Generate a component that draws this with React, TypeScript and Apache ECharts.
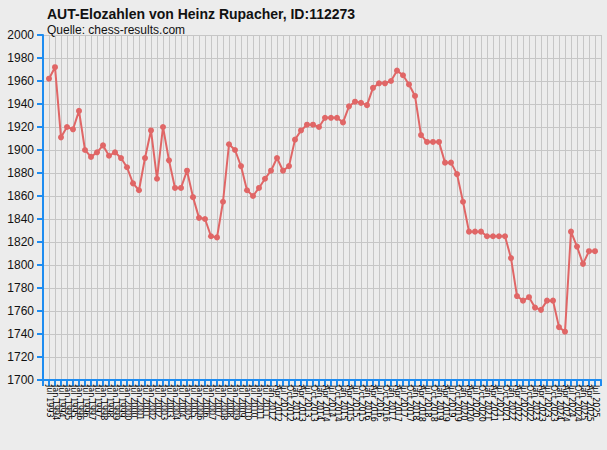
import { useEffect, useRef } from 'react'
import * as echarts from 'echarts'

// rating lists: half-yearly up to Jan 2012, then quarterly
const halfYearLabels = [
  'Jul 1993', 'Jan 1994', 'Jul 1994', 'Jan 1995', 'Jul 1995', 'Jan 1996', 'Jul 1996', 'Jan 1997',
  'Jul 1997', 'Jan 1998', 'Jul 1998', 'Jan 1999', 'Jul 1999', 'Jan 2000', 'Jul 2000', 'Jan 2001',
  'Jul 2001', 'Jan 2002', 'Jul 2002', 'Jan 2003', 'Jul 2003', 'Jan 2004', 'Jul 2004', 'Jan 2005',
  'Jul 2005', 'Jan 2006', 'Jul 2006', 'Jan 2007', 'Jul 2007', 'Jan 2008', 'Jul 2008', 'Jan 2009',
  'Jul 2009', 'Jan 2010', 'Jul 2010', 'Jan 2011', 'Jul 2011', 'Jan 2012'
]

const quarterLabels = [
  'Apr 2012', 'Jul 2012', 'Oct 2012',
  'Jan 2013', 'Apr 2013', 'Jul 2013', 'Oct 2013',
  'Jan 2014', 'Apr 2014', 'Jul 2014', 'Oct 2014',
  'Jan 2015', 'Apr 2015', 'Jul 2015', 'Oct 2015',
  'Jan 2016', 'Apr 2016', 'Jul 2016', 'Oct 2016',
  'Jan 2017', 'Apr 2017', 'Jul 2017', 'Oct 2017',
  'Jan 2018', 'Apr 2018', 'Jul 2018', 'Oct 2018',
  'Jan 2019', 'Apr 2019', 'Jul 2019', 'Oct 2019',
  'Jan 2020', 'Apr 2020', 'Jul 2020', 'Oct 2020',
  'Jan 2021', 'Apr 2021', 'Jul 2021', 'Oct 2021',
  'Jan 2022', 'Apr 2022', 'Jul 2022', 'Oct 2022',
  'Jan 2023', 'Apr 2023', 'Jul 2023', 'Oct 2023',
  'Jan 2024', 'Apr 2024', 'Jul 2024', 'Oct 2024',
  'Jan 2025', 'Apr 2025', 'Jul 2025'
]

const dateLabels = [...halfYearLabels, ...quarterLabels]

const elo = [
  1962, 1972, 1911, 1920, 1918, 1934, 1900, 1894, 1898, 1904,
  1895, 1898, 1893, 1885, 1871, 1865, 1893, 1917, 1875, 1920,
  1891, 1867, 1867, 1882, 1859, 1841, 1840, 1825, 1824, 1855,
  1905, 1900, 1886, 1865, 1860, 1867, 1875, 1882, 1893, 1882,
  1886, 1909, 1917, 1922, 1922, 1920, 1928, 1928, 1928, 1924,
  1938, 1942, 1941, 1939, 1954, 1958, 1958, 1960, 1969, 1965,
  1957, 1947, 1913, 1907, 1907, 1907, 1889, 1889, 1879, 1855,
  1829, 1829, 1829, 1825, 1825, 1825, 1825, 1806, 1773, 1769,
  1772, 1763, 1761, 1769, 1769, 1746, 1742, 1829, 1816, 1801,
  1812, 1812
]

const yMin = 1700
const yMax = 2000
const yStep = 20

const axisBlue = '#1e8cf0'

export default function App() {
  const chartRef = useRef<HTMLDivElement>(null)

  useEffect(() => {
    if (!chartRef.current) return
    const chart = echarts.init(chartRef.current, null, { renderer: 'svg' })

    chart.setOption({
      animation: false,
      backgroundColor: '#ececec',
      title: {
        text: 'AUT-Elozahlen von Heinz Rupacher, ID:112273',
        subtext: 'Quelle: chess-results.com',
        left: 42,
        top: 2,
        itemGap: 3,
        textStyle: { fontFamily: 'Liberation Sans', fontSize: 14, fontWeight: 'bold', color: '#111' },
        subtextStyle: { fontFamily: 'Liberation Sans', fontSize: 12, color: '#111' }
      },
      grid: { left: 43, right: 6, top: 35, bottom: 70 },
      xAxis: {
        type: 'value',
        min: 0,
        max: dateLabels.length + 1,
        interval: 1,
        axisLine: { lineStyle: { color: axisBlue, width: 2 } },
        axisTick: { show: true, length: 6, lineStyle: { color: axisBlue, width: 2 } },
        splitLine: { show: true, lineStyle: { color: '#c6c6c6', width: 1 } },
        axisLabel: {
          rotate: -90,
          fontSize: 8,
          fontFamily: 'DejaVu Sans',
          color: '#000',
          margin: 5,
          showMinLabel: true,
          showMaxLabel: true,
          formatter: (v: number) => dateLabels[v - 1] ?? ''
        }
      },
      yAxis: {
        type: 'value',
        min: yMin,
        max: yMax,
        interval: yStep,
        axisLine: { show: true, lineStyle: { color: axisBlue, width: 2 } },
        axisTick: { show: true, length: 6, lineStyle: { color: axisBlue, width: 2 } },
        splitLine: { show: true, lineStyle: { color: '#c6c6c6', width: 1 } },
        axisLabel: {
          fontSize: 12,
          fontFamily: 'Liberation Sans',
          color: '#111',
          margin: 9,
          formatter: (v: number) => String(v)
        }
      },
      series: [
        {
          type: 'line',
          data: elo.map((v, i) => [i + 1, v]),
          symbol: 'circle',
          symbolSize: 6,
          lineStyle: { color: '#e06666', width: 2 },
          itemStyle: { color: '#e06666' }
        }
      ]
    })

    return () => {
      chart.dispose()
    }
  }, [])

  return (
    <div
      ref={chartRef}
      style={{ position: 'absolute', left: 0, top: 0, width: 607, height: 450 }}
    />
  )
}
